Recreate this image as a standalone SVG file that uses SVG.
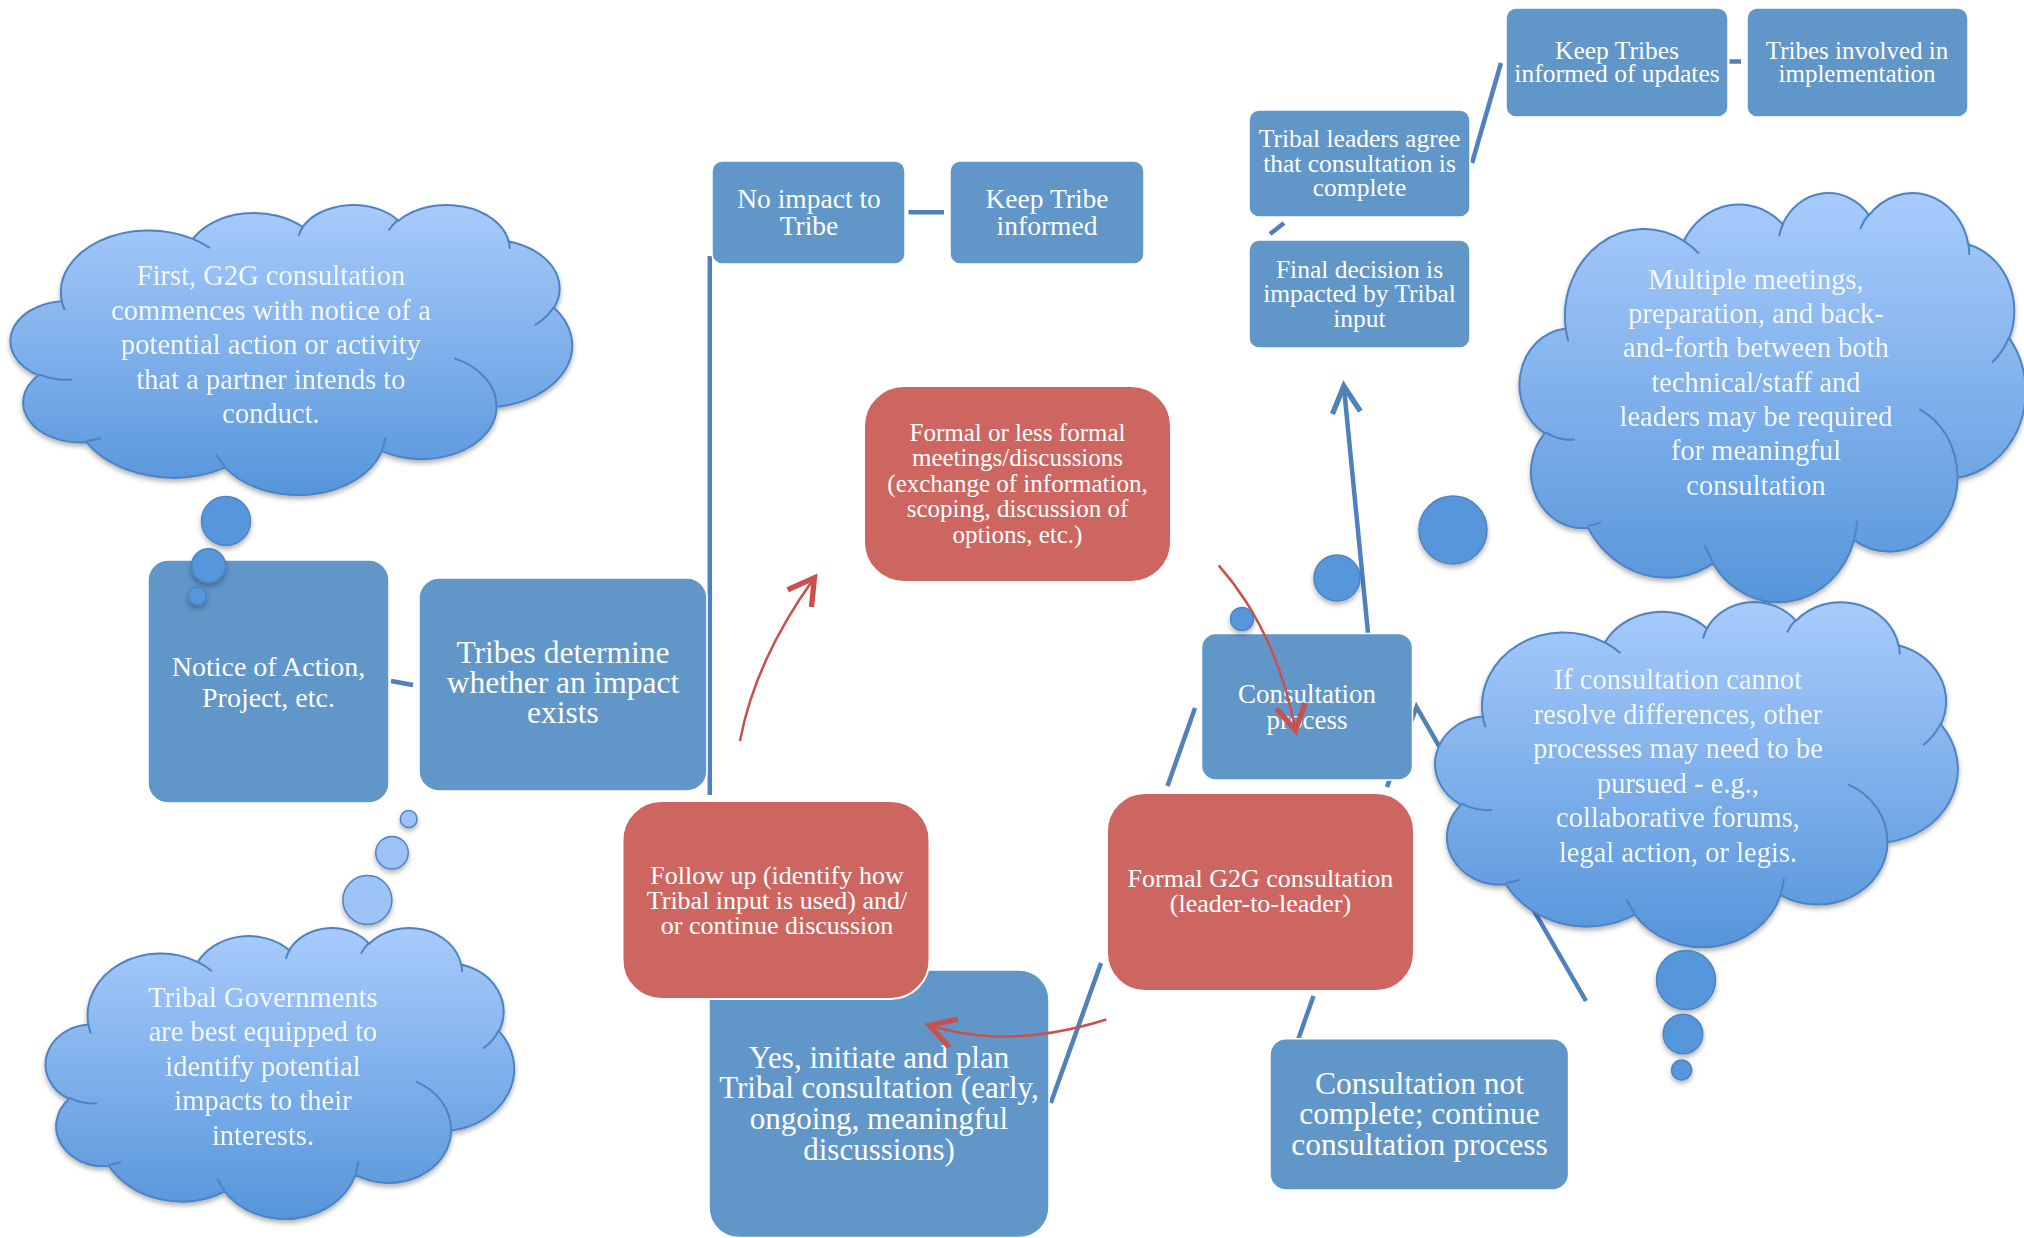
<svg xmlns="http://www.w3.org/2000/svg" xmlns:xlink="http://www.w3.org/1999/xlink" width="2024" height="1238" viewBox="0 0 2024 1238">
<style>
.bx{fill:#6196c9;stroke:#ffffff;stroke-width:1.5}
.rd{fill:#cd6661;stroke:#ffffff;stroke-width:2}
.t{font-family:"Liberation Serif","Times New Roman",serif;fill:#ffffff;text-anchor:middle}
.ct{font-family:"Liberation Serif","Times New Roman",serif;fill:#f4f8fd;text-anchor:middle;font-size:28.5px}
.cl{fill:url(#cg);stroke:#4d83c3;stroke-width:2}
.cli{fill:none;stroke:#4d83c3;stroke-width:2}
.bub{fill:#5597da;stroke:#4d83c3;stroke-width:1.5}
.bubl{fill:#9dc3f6;stroke:#4d83c3;stroke-width:1.5}
.ln{fill:none;stroke:#4f81bd;stroke-width:4.5}
.ar{fill:none;stroke:#c9514d;stroke-width:2.5}
</style>
<defs>
<linearGradient id="cg" x1="0" y1="0" x2="0" y2="1">
<stop offset="0" stop-color="#a8cbfc"/>
<stop offset="1" stop-color="#5695da"/>
</linearGradient>
<filter id="sh" x="-10%" y="-10%" width="120%" height="125%">
<feDropShadow dx="0" dy="3" stdDeviation="2.5" flood-color="#000" flood-opacity="0.3"/>
</filter>
<path id="cloud" vector-effect="non-scaling-stroke" d="M39,143.7 A67.53,91.9 0 0 1 140.05,52.02 A53.33,72.67 0 0 1 224.57,34.33 A43.65,59.45 0 0 1 298.33,24.81 A48.57,65.95 0 0 1 383.19,55.76 A53.33,72.73 0 0 1 418.19,154.6 A67.75,92.2 0 0 1 374.06,302.05 A57.85,78.67 0 0 1 285.58,368.15 A67.52,92.15 0 0 1 164.83,392.68 A77.2,105.43 0 0 1 58.06,354.75 A43.6,59.45 0 0 1 21.05,255.19 A43.45,59.45 0 0 1 38.54,144.75 Z"/>
<path id="cloudIn" vector-effect="non-scaling-stroke" d="M46.93,261.77 A43.45,59.45 0 0 1 21.6,253.8 M69.28,348.99 A43.6,59.45 0 0 1 58.16,352.85 M164.78,390.9 A67.52,92.15 0 0 1 158.1,373.49 M288.27,347.51 A67.52,92.15 0 0 1 285.61,366.59 M341.29,229.54 A57.85,78.67 0 0 1 373.81,300.9 M417.98,153.54 A53.33,72.73 0 0 1 403.49,180.31 M383.24,54.26 A48.57,65.95 0 0 1 384,66.89 M290.78,39.52 A48.57,65.95 0 0 1 298.2,23.4 M221.41,47.2 A43.65,59.45 0 0 1 225,33.3 M140,51.92 A67.53,91.9 0 0 1 153,65.41 M41.27,157.89 A67.53,91.9 0 0 1 39,143.71"/>
<marker id="ahr" markerUnits="userSpaceOnUse" markerWidth="40" markerHeight="40" viewBox="-25 -15 30 30" refX="0" refY="0" orient="auto" overflow="visible">
<path d="M-19,-11 L0,0 L-19,11" fill="none" stroke="#c9514d" stroke-width="4"/>
</marker>
<marker id="ahb" markerUnits="userSpaceOnUse" markerWidth="40" markerHeight="40" viewBox="-25 -15 30 30" refX="0" refY="0" orient="auto" overflow="visible">
<path d="M-20,-10.5 L0,0 L-20,10.5" fill="none" stroke="#4f81bd" stroke-width="4"/>
</marker>
</defs>
<rect x="0" y="0" width="2024" height="1238" fill="#ffffff"/>

<g id="connectors-lines">
<line class="ln" x1="391" y1="681" x2="413" y2="685"/>
<line class="ln" x1="709.8" y1="256" x2="709.8" y2="795"/>
<line class="ln" x1="908.5" y1="212.3" x2="944" y2="212.3"/>
<line class="ln" x1="1729.5" y1="61.5" x2="1741" y2="61.5"/>
<line class="ln" x1="1472" y1="163" x2="1501" y2="63"/>
<line class="ln" stroke-width="5" x1="1270" y1="234" x2="1284" y2="223"/>
<line class="ln" stroke-width="4" x1="1368" y1="633" x2="1343.8" y2="386" marker-end="url(#ahb)"/>
<line class="ln" x1="1167.5" y1="786" x2="1195" y2="708"/>
<polyline class="ln" points="1387,787 1416.5,707 1586,1001"/>
<line class="ln" x1="1101" y1="963" x2="1050.8" y2="1103"/>
<line class="ln" x1="1313.5" y1="996" x2="1298.4" y2="1038.7"/>
</g>

<g id="node-notice">
<rect class="bx" x="148" y="560" width="241" height="243" rx="20"/>
<text class="t" font-size="28"><tspan x="268.5" y="676">Notice of Action,</tspan><tspan x="268.5" y="706.5">Project, etc.</tspan></text>
</g>
<g id="node-tribes-determine">
<rect class="bx" x="419" y="578" width="288" height="213" rx="20"/>
<text class="t" font-size="31.5"><tspan x="563" y="663">Tribes determine</tspan><tspan x="563" y="693">whether an impact</tspan><tspan x="563" y="723">exists</tspan></text>
</g>
<g id="node-no-impact">
<rect class="bx" x="712" y="161" width="193" height="103" rx="10"/>
<text class="t" font-size="27.5"><tspan x="809" y="208">No impact to</tspan><tspan x="809" y="234.5">Tribe</tspan></text>
</g>
<g id="node-keep-tribe">
<rect class="bx" x="950" y="161" width="194" height="103" rx="10"/>
<text class="t" font-size="27.5"><tspan x="1047" y="208">Keep Tribe</tspan><tspan x="1047" y="234.5">informed</tspan></text>
</g>
<g id="node-formal-less">
<rect class="rd" x="864" y="386" width="307" height="196" rx="40"/>
<text class="t" font-size="25"><tspan x="1017.5" y="440.5">Formal or less formal</tspan><tspan x="1017.5" y="466">meetings/discussions</tspan><tspan x="1017.5" y="491.5">(exchange of information,</tspan><tspan x="1017.5" y="517">scoping, discussion of</tspan><tspan x="1017.5" y="542.5">options, etc.)</tspan></text>
</g>
<g id="node-yes">
<rect class="bx" x="709" y="970" width="340" height="267.5" rx="30"/>
<text class="t" font-size="31"><tspan x="879" y="1067.5">Yes, initiate and plan</tspan><tspan x="879" y="1098">Tribal consultation (early,</tspan><tspan x="879" y="1129">ongoing, meaningful</tspan><tspan x="879" y="1160">discussions)</tspan></text>
</g>
<g id="node-follow-up">
<rect class="rd" stroke-width="3" x="622.5" y="801" width="307" height="198" rx="39"/>
<text class="t" font-size="26"><tspan x="777" y="884">Follow up (identify how</tspan><tspan x="777" y="908.5">Tribal input is used) and/</tspan><tspan x="777" y="933.5">or continue discussion</tspan></text>
</g>
<g id="node-formal-g2g">
<rect class="rd" x="1107" y="793" width="307" height="198" rx="38"/>
<text class="t" font-size="26"><tspan x="1260.5" y="887">Formal G2G consultation</tspan><tspan x="1260.5" y="911.5">(leader-to-leader)</tspan></text>
</g>
<g id="node-consultation-process">
<rect class="bx" x="1201.5" y="633.5" width="211" height="146.5" rx="14"/>
<text class="t" font-size="27"><tspan x="1307" y="702.5">Consultation</tspan><tspan x="1307" y="729">process</tspan></text>
</g>
<g id="node-not-complete">
<rect class="bx" x="1270" y="1038.7" width="298.6" height="151.3" rx="16"/>
<text class="t" font-size="31.5"><tspan x="1419.5" y="1093.5">Consultation not</tspan><tspan x="1419.5" y="1124">complete; continue</tspan><tspan x="1419.5" y="1154.5">consultation process</tspan></text>
</g>
<g id="node-final-decision">
<rect class="bx" x="1249" y="240" width="221" height="108" rx="10"/>
<text class="t" font-size="25.5"><tspan x="1359.5" y="277.5">Final decision is</tspan><tspan x="1359.5" y="302">impacted by Tribal</tspan><tspan x="1359.5" y="327">input</tspan></text>
</g>
<g id="node-leaders-agree">
<rect class="bx" x="1249" y="110" width="221" height="107" rx="10"/>
<text class="t" font-size="25.5"><tspan x="1359.5" y="147">Tribal leaders agree</tspan><tspan x="1359.5" y="171.5">that consultation is</tspan><tspan x="1359.5" y="196">complete</tspan></text>
</g>
<g id="node-keep-tribes-updates">
<rect class="bx" x="1506" y="8" width="222" height="109" rx="10"/>
<text class="t" font-size="25.5"><tspan x="1617" y="58.5">Keep Tribes</tspan><tspan x="1617" y="82">informed of updates</tspan></text>
</g>
<g id="node-tribes-involved">
<rect class="bx" x="1747" y="8" width="221" height="109" rx="10"/>
<text class="t" font-size="25"><tspan x="1857" y="58.5">Tribes involved in</tspan><tspan x="1857" y="82">implementation</tspan></text>
</g>

<g id="cloud-first">
<g filter="url(#sh)">
<use xlink:href="#cloud" class="cl" transform="translate(11,204) scale(1.2986,0.6713)"/>
<circle class="bub" cx="226" cy="521" r="24.5"/>
<circle class="bub" cx="208.5" cy="565.7" r="17"/>
<circle class="bub" cx="197.4" cy="596" r="9"/>
</g>
<use xlink:href="#cloudIn" class="cli" transform="translate(11,204) scale(1.2986,0.6713)"/>
<text class="ct" font-size="28"><tspan x="271" y="285">First, G2G consultation</tspan><tspan x="271" y="319.5">commences with notice of a</tspan><tspan x="271" y="354">potential action or activity</tspan><tspan x="271" y="388.5">that a partner intends to</tspan><tspan x="271" y="423">conduct.</tspan></text>
</g>
<g id="cloud-tribal-governments">
<g filter="url(#sh)">
<use xlink:href="#cloud" class="cl" transform="translate(46,927) scale(1.0833,0.6736)"/>
<circle class="bubl" cx="367.4" cy="900" r="24.5"/>
<circle class="bubl" cx="392" cy="852.7" r="16.3"/>
<circle class="bubl" cx="408.7" cy="819" r="8.4"/>
</g>
<use xlink:href="#cloudIn" class="cli" transform="translate(46,927) scale(1.0833,0.6736)"/>
<text class="ct"><tspan x="263" y="1006.5">Tribal Governments</tspan><tspan x="263" y="1041">are best equipped to</tspan><tspan x="263" y="1075.6">identify potential</tspan><tspan x="263" y="1110">impacts to their</tspan><tspan x="263" y="1144.6">interests.</tspan></text>
</g>
<g id="cloud-multiple-meetings">
<g filter="url(#sh)">
<use xlink:href="#cloud" class="cl" transform="translate(1520,191.7) scale(1.17,0.947)"/>
<circle class="bub" cx="1453" cy="530" r="34"/>
<circle class="bub" cx="1337" cy="578" r="23"/>
<circle class="bub" cx="1242" cy="619" r="11.5"/>
</g>
<use xlink:href="#cloudIn" class="cli" transform="translate(1520,191.7) scale(1.17,0.947)"/>
<text class="ct"><tspan x="1756" y="288.5">Multiple meetings,</tspan><tspan x="1756" y="323">preparation, and back-</tspan><tspan x="1756" y="357.3">and-forth between both</tspan><tspan x="1756" y="391.6">technical/staff and</tspan><tspan x="1756" y="426">leaders may be required</tspan><tspan x="1756" y="460.3">for meaningful</tspan><tspan x="1756" y="494.6">consultation</tspan></text>
</g>
<g id="cloud-if-consultation">
<g filter="url(#sh)">
<use xlink:href="#cloud" class="cl" transform="translate(1435.6,601) scale(1.2083,0.7986)"/>
<circle class="bub" cx="1686" cy="980" r="29.5"/>
<circle class="bub" cx="1683" cy="1034" r="19.8"/>
<circle class="bub" cx="1681.6" cy="1070" r="10"/>
</g>
<use xlink:href="#cloudIn" class="cli" transform="translate(1435.6,601) scale(1.2083,0.7986)"/>
<text class="ct"><tspan x="1678" y="689">If consultation cannot</tspan><tspan x="1678" y="723.6">resolve differences, other</tspan><tspan x="1678" y="758">processes may need to be</tspan><tspan x="1678" y="792.6">pursued - e.g.,</tspan><tspan x="1678" y="827">collaborative forums,</tspan><tspan x="1678" y="861.6">legal action, or legis.</tspan></text>
</g>

<g id="connectors-arrows">
<path class="ar" d="M740,741 Q755.2,660 814.4,577.8" marker-end="url(#ahr)"/>
<path class="ar" d="M1106.3,1019.5 Q1008.1,1050.4 929.5,1025.3" marker-end="url(#ahr)"/>
<path class="ar" d="M1218.7,565.4 Q1276.2,630.8 1295.6,730.6" marker-end="url(#ahr)"/>
</g>
</svg>
